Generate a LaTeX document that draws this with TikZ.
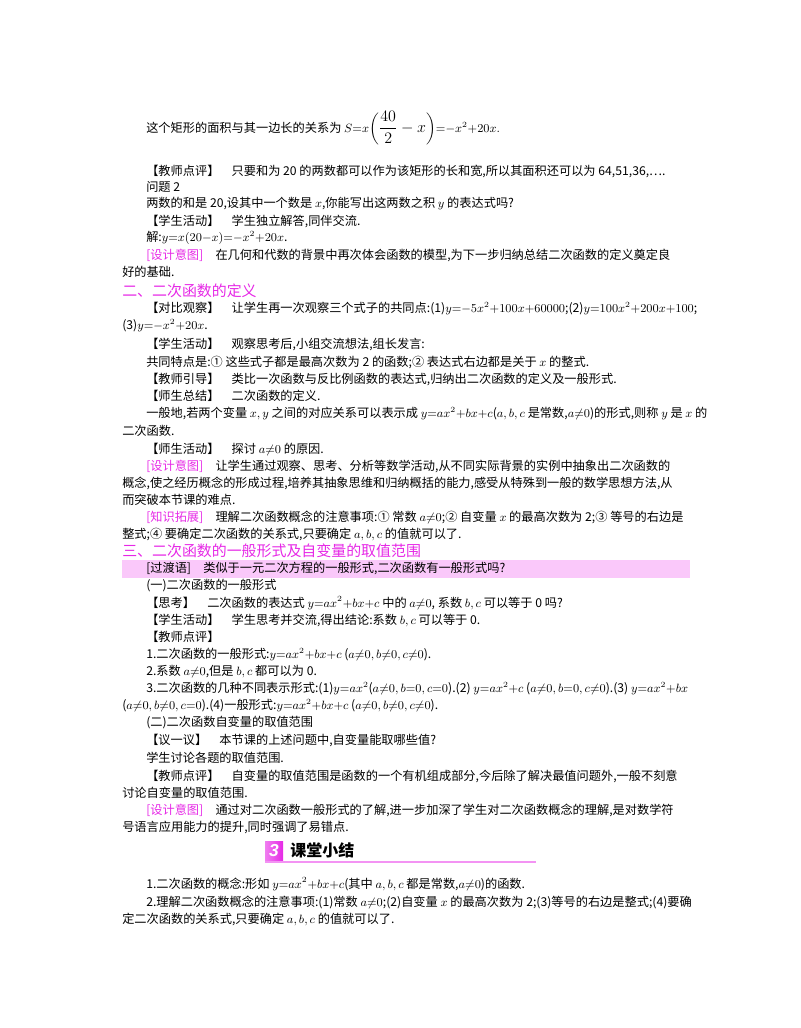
\documentclass[tikz,border=0pt]{standalone}
\usepackage{fontspec}
\setmainfont{Noto Sans CJK SC}
\newfontfamily\lsf{Liberation Sans}
\definecolor{mag}{RGB}{230,40,230}
\definecolor{band}{RGB}{250,200,250}
\begin{document}
\begin{tikzpicture}[x=0.75pt,y=-0.75pt,
  ln/.style={anchor=west,inner sep=0pt,font=\fontsize{9.15}{11}\selectfont},
  hd/.style={anchor=west,inner sep=0pt,text=mag,font=\fontsize{11.2}{13}\selectfont}]
\newcommand\tg[1]{\textcolor{mag}{[#1]}}
\useasboundingbox (0,0) rectangle (800,1028);
\fill[band] (122,560) rectangle (690,578);
\node[ln] (a1) at (146,128) {这个矩形的面积与其一边长的关系为 $S{=}x${\fontsize{13}{15}\selectfont$\left(\displaystyle\frac{40}{2}-x\right)$}${=}{-}x^2{+}20x.$};
\node[ln] (a2) at (146,171) {【教师点评】\quad 只要和为 20 的两数都可以作为该矩形的长和宽,所以其面积还可以为 64,51,36,….};
\node[ln] (a3) at (146,187) {问题 2};
\node[ln] (a4) at (146,204) {两数的和是 20,设其中一个数是 $x$,你能写出这两数之积 $y$ 的表达式吗?};
\node[ln] (a5) at (146,221) {【学生活动】\quad 学生独立解答,同伴交流.};
\node[ln] (a6) at (146,238) {解:$y{=}x(20{-}x){=}{-}x^2{+}20x$.};
\node[ln] (a7) at (146,255) {\tg{设计意图}\quad 在几何和代数的背景中再次体会函数的模型,为下一步归纳总结二次函数的定义奠定良};
\node[ln] (a8) at (122,272) {好的基础.};
\node[hd] (h2) at (122,291) {二、二次函数的定义};
\node[ln] (b1) at (146,309) {【对比观察】\quad 让学生再一次观察三个式子的共同点:(1)$y{=}{-}5x^2{+}100x{+}60000$;(2)$y{=}100x^2{+}200x{+}100$;};
\node[ln] (b2) at (122,326) {(3)$y{=}{-}x^2{+}20x$.};
\node[ln] (b3) at (146,344) {【学生活动】\quad 观察思考后,小组交流想法,组长发言:};
\node[ln] (b4) at (146,362) {共同特点是:① 这些式子都是最高次数为 2 的函数;② 表达式右边都是关于 $x$ 的整式.};
\node[ln] (b5) at (146,379) {【教师引导】\quad 类比一次函数与反比例函数的表达式,归纳出二次函数的定义及一般形式.};
\node[ln] (b6) at (146,396) {【师生总结】\quad 二次函数的定义.};
\node[ln] (b7) at (146,414) {一般地,若两个变量 $x,y$ 之间的对应关系可以表示成 $y{=}ax^2{+}bx{+}c$($a,b,c$ 是常数,$a{\neq}0$)的形式,则称 $y$ 是 $x$ 的};
\node[ln] (b8) at (122,431) {二次函数.};
\node[ln] (b9) at (146,449) {【师生活动】\quad 探讨 $a{\neq}0$ 的原因.};
\node[ln] (b10) at (146,466) {\tg{设计意图}\quad 让学生通过观察、思考、分析等数学活动,从不同实际背景的实例中抽象出二次函数的};
\node[ln] (b11) at (122,483) {概念,使之经历概念的形成过程,培养其抽象思维和归纳概括的能力,感受从特殊到一般的数学思想方法,从};
\node[ln] (b12) at (122,500) {而突破本节课的难点.};
\node[ln] (b13) at (146,517) {\tg{知识拓展}\quad 理解二次函数概念的注意事项:① 常数 $a{\neq}0$;② 自变量 $x$ 的最高次数为 2;③ 等号的右边是};
\node[ln] (b14) at (122,534) {整式;④ 要确定二次函数的关系式,只要确定 $a,b,c$ 的值就可以了.};
\node[hd] (h3) at (122,551) {三、二次函数的一般形式及自变量的取值范围};
\node[ln] (c1) at (146,568) {[过渡语]\quad 类似于一元二次方程的一般形式,二次函数有一般形式吗?};
\node[ln] (c2) at (146,586) {(一)二次函数的一般形式};
\node[ln] (c3) at (146,603) {【思考】\quad 二次函数的表达式 $y{=}ax^2{+}bx{+}c$ 中的 $a{\neq}0$, 系数 $b,c$ 可以等于 0 吗?};
\node[ln] (c4) at (146,620) {【学生活动】\quad 学生思考并交流,得出结论:系数 $b,c$ 可以等于 0.};
\node[ln] (c5) at (146,637) {【教师点评】};
\node[ln] (c6) at (146,655) {1.二次函数的一般形式:$y{=}ax^2{+}bx{+}c$ ($a{\neq}0,b{\neq}0,c{\neq}0$).};
\node[ln] (c7) at (146,672) {2.系数 $a{\neq}0$,但是 $b,c$ 都可以为 0.};
\node[ln] (c8) at (146,689) {3.二次函数的几种不同表示形式:(1)$y{=}ax^2$($a{\neq}0,b{=}0,c{=}0$).(2) $y{=}ax^2{+}c$ ($a{\neq}0,b{=}0,c{\neq}0$).(3) $y{=}ax^2{+}bx$};
\node[ln] (c9) at (122,706) {($a{\neq}0,b{\neq}0,c{=}0$).(4)一般形式:$y{=}ax^2{+}bx{+}c$ ($a{\neq}0,b{\neq}0,c{\neq}0$).};
\node[ln] (c10) at (146,723) {(二)二次函数自变量的取值范围};
\node[ln] (d1) at (146,740) {【议一议】\quad 本节课的上述问题中,自变量能取哪些值?};
\node[ln] (d2) at (146,758) {学生讨论各题的取值范围.};
\node[ln] (d3) at (146,776) {【教师点评】\quad 自变量的取值范围是函数的一个有机组成部分,今后除了解决最值问题外,一般不刻意};
\node[ln] (d4) at (122,793) {讨论自变量的取值范围.};
\node[ln] (d5) at (146,810) {\tg{设计意图}\quad 通过对二次函数一般形式的了解,进一步加深了学生对二次函数概念的理解,是对数学符};
\node[ln] (d6) at (122,827) {号语言应用能力的提升,同时强调了易错点.};
\shade[left color=mag!60,right color=mag] (265,841) rectangle (283,860);
\node[inner sep=0pt,text=white,font=\bfseries\itshape\fontsize{13}{14}\selectfont\lsf] (n3) at (274,850.5) {3};
\node[anchor=west,inner sep=0pt,font=\bfseries\fontsize{12}{14}\selectfont] (ks) at (290,850) {课堂小结};
\draw[mag!50,line width=0.8pt] (265,862) -- (536,862);
\node[ln] (e1) at (146,884) {1.二次函数的概念:形如 $y{=}ax^2{+}bx{+}c$(其中 $a,b,c$ 都是常数,$a{\neq}0$)的函数.};
\node[ln] (e2) at (146,902) {2.理解二次函数概念的注意事项:(1)常数 $a{\neq}0$;(2)自变量 $x$ 的最高次数为 2;(3)等号的右边是整式;(4)要确};
\node[ln] (e3) at (122,919) {定二次函数的关系式,只要确定 $a,b,c$ 的值就可以了.};
\end{tikzpicture}
\end{document}
